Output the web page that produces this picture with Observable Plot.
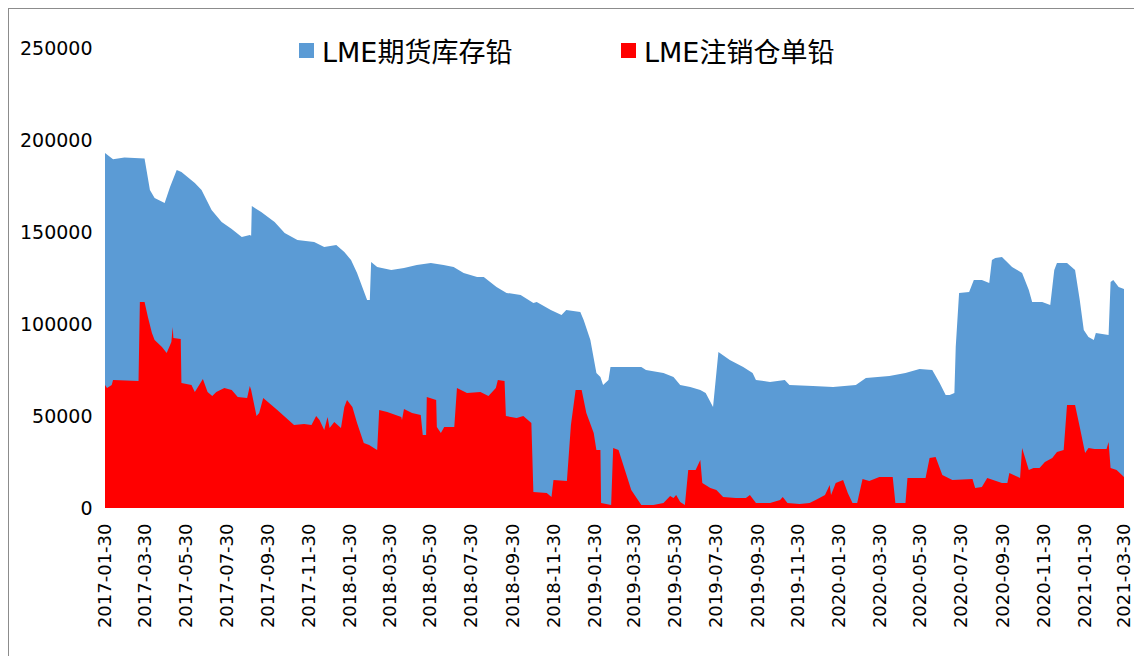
<!DOCTYPE html>
<html><head><meta charset="utf-8">
<script src="https://cdn.jsdelivr.net/npm/d3@7"></script>
<script src="https://cdn.jsdelivr.net/npm/@observablehq/plot@0.6"></script>
<style>
body{margin:0;background:#fff;}
#wrap{position:relative;width:1134px;height:656px;overflow:hidden;font-family:"DejaVu Sans","Noto Sans CJK SC",sans-serif;}
#frame{position:absolute;left:8px;top:8px;width:1140px;height:700px;border:1px solid #8c8c8c;box-sizing:border-box;}
#chart{position:absolute;left:0;top:0;}
.lg{position:absolute;top:31px;display:flex;align-items:center;font-size:27px;color:#000;white-space:nowrap;}
.sw{width:15px;height:15px;margin-right:8px;}
</style></head>
<body><div id="wrap"><div id="frame"></div><div id="chart"></div>
<div class="lg" style="left:299px"><div class="sw" style="background:#5B9BD5"></div><span>LME期货库存铅</span></div>
<div class="lg" style="left:621px"><div class="sw" style="background:#FF0000"></div><span>LME注销仓单铅</span></div>
</div>
<script>
const seriesNames = ["LME期货库存铅", "LME注销仓单铅"];
const xTickLabels = ["2017-01-30","2017-03-30","2017-05-30","2017-07-30","2017-09-30","2017-11-30",
"2018-01-30","2018-03-30","2018-05-30","2018-07-30","2018-09-30","2018-11-30",
"2019-01-30","2019-03-30","2019-05-30","2019-07-30","2019-09-30","2019-11-30",
"2020-01-30","2020-03-30","2020-05-30","2020-07-30","2020-09-30","2020-11-30",
"2021-01-30","2021-03-30"];
const yTicks = [0, 50000, 100000, 150000, 200000, 250000];

// LME期货库存铅 (total stocks)
const stockDates = ["2017-01-30","2017-02-11","2017-02-28","2017-03-30","2017-04-07","2017-04-14","2017-04-29","2017-05-07","2017-05-17","2017-05-24",
"2017-06-13","2017-06-23","2017-07-08","2017-07-23","2017-08-07","2017-08-22","2017-09-03","2017-09-05","2017-09-06","2017-09-20",
"2017-10-10","2017-10-25","2017-11-13","2017-12-08","2017-12-23","2018-01-10","2018-01-22","2018-02-01","2018-02-10","2018-02-25",
"2018-03-01","2018-03-03","2018-03-12","2018-04-02","2018-04-21","2018-05-10","2018-05-31","2018-06-19","2018-07-04","2018-07-19",
"2018-08-08","2018-08-18","2018-09-06","2018-09-21","2018-10-12","2018-10-31","2018-11-05","2018-11-26","2018-12-12","2018-12-19",
"2019-01-09","2019-01-14","2019-01-24","2019-02-02","2019-02-08","2019-02-12","2019-02-20","2019-02-23","2019-04-10","2019-04-17",
"2019-05-13","2019-05-28","2019-06-07","2019-06-22","2019-07-07","2019-07-15","2019-07-26","2019-08-03","2019-08-20","2019-09-09",
"2019-09-23","2019-09-28","2019-10-19","2019-11-10","2019-11-17","2019-12-22","2020-01-21","2020-02-24","2020-03-10","2020-04-14",
"2020-05-08","2020-05-29","2020-06-17","2020-06-28","2020-07-07","2020-07-13","2020-07-20","2020-07-22","2020-07-27","2020-08-11",
"2020-08-18","2020-08-30","2020-09-10","2020-09-14","2020-09-19","2020-09-29","2020-10-14","2020-10-29","2020-11-08","2020-11-13",
"2020-11-28","2020-12-10","2020-12-16","2020-12-20","2021-01-04","2021-01-16","2021-01-23","2021-01-29","2021-02-05","2021-02-13",
"2021-02-16","2021-03-07","2021-03-10","2021-03-14","2021-03-22","2021-03-30"];
const stockValues = [193000,189500,190500,190000,172800,168500,165800,174500,183700,182600,
176600,172800,162000,155400,151600,147300,148400,148000,164100,160900,
155400,149500,145700,144600,141900,142900,139100,134800,127700,113000,
113000,133700,131000,129400,130400,132100,133200,132100,131000,127700,
125500,125500,120100,116900,115800,111400,112000,107600,104900,107600,
106500,102200,91300,73400,71200,66900,69600,76600,76600,75000,
73400,71200,66900,65800,64100,62500,54900,84800,80400,76600,
73400,69600,68500,69600,66900,66300,65800,66900,70700,71700,
73400,75500,75000,67900,61400,61400,62500,87500,116900,117400,
123900,123900,122300,134800,135900,136400,131000,127700,118500,112000,
112000,110300,129400,133200,133200,129400,113000,96700,92900,91300,
95100,94000,122800,123900,120100,119000];

// LME注销仓单铅 (cancelled warrants)
const cancelDates = ["2017-01-30","2017-02-02","2017-02-09","2017-02-11","2017-03-21","2017-03-23","2017-03-30","2017-04-04","2017-04-10","2017-04-14",
"2017-04-25","2017-05-02","2017-05-09","2017-05-11","2017-05-12","2017-05-23","2017-05-24","2017-06-08","2017-06-13","2017-06-25",
"2017-07-02","2017-07-09","2017-07-15","2017-07-27","2017-08-07","2017-08-16","2017-08-30","2017-09-03","2017-09-05","2017-09-13",
"2017-09-17","2017-09-23","2017-10-14","2017-11-08","2017-11-23","2017-12-04","2017-12-11","2017-12-16","2017-12-23","2017-12-28",
"2017-12-31","2018-01-07","2018-01-17","2018-01-22","2018-01-26","2018-02-03","2018-02-10","2018-02-20","2018-02-28","2018-03-07",
"2018-03-12","2018-03-15","2018-03-27","2018-04-17","2018-04-18","2018-04-21","2018-05-03","2018-05-16","2018-05-19","2018-05-24",
"2018-05-25","2018-06-08","2018-06-09","2018-06-15","2018-06-20","2018-07-05","2018-07-09","2018-07-24","2018-08-13","2018-08-25",
"2018-09-05","2018-09-08","2018-09-18","2018-09-20","2018-10-06","2018-10-16","2018-10-28","2018-10-31","2018-11-20","2018-11-27",
"2018-11-30","2018-12-20","2018-12-26","2019-01-02","2019-01-11","2019-01-18","2019-01-29","2019-02-02","2019-02-08","2019-02-09",
"2019-02-24","2019-02-27","2019-03-07","2019-03-26","2019-04-10","2019-04-28","2019-05-13","2019-05-23","2019-05-28","2019-06-01",
"2019-06-07","2019-06-14","2019-06-19","2019-06-30","2019-07-07","2019-07-10","2019-07-22","2019-07-31","2019-08-10","2019-08-29",
"2019-09-13","2019-09-19","2019-09-28","2019-10-19","2019-11-03","2019-11-07","2019-11-14","2019-12-02","2019-12-17","2019-12-26",
"2020-01-09","2020-01-16","2020-01-18","2020-01-25","2020-02-05","2020-02-12","2020-02-19","2020-02-26","2020-03-05","2020-03-15",
"2020-03-30","2020-04-19","2020-04-23","2020-05-08","2020-05-11","2020-06-07","2020-06-13","2020-06-22","2020-07-02","2020-07-17",
"2020-08-16","2020-08-20","2020-08-30","2020-09-07","2020-09-29","2020-10-07","2020-10-10","2020-10-26","2020-10-29","2020-11-08",
"2020-11-15","2020-11-24","2020-12-02","2020-12-13","2020-12-20","2020-12-30","2021-01-04","2021-01-16","2021-01-23","2021-01-31",
"2021-02-05","2021-02-14","2021-03-04","2021-03-07","2021-03-10","2021-03-19","2021-03-30"];
const cancelValues = [66900,65200,66900,69600,69000,112000,112000,103800,95100,91300,
87500,84200,90200,98400,92400,91800,67900,66900,63000,70100,
63000,60900,63000,65200,64100,60300,59800,66300,64100,50000,
51600,59800,53300,45100,45700,45100,50000,47800,42400,49500,
43500,46700,43500,54900,58700,54900,46200,35300,34200,32600,
31500,53300,52200,49500,47800,53800,51600,50500,39700,39700,
60300,58700,44000,40800,44000,44000,65200,62500,63000,60900,
65200,69600,69000,50000,48900,50000,46200,8700,8200,6000,
15200,14700,45100,64100,64100,51600,40800,31500,31500,2700,
1600,32600,31500,9800,1600,1600,2700,6500,5400,7100,
3300,1600,20700,20700,26100,13600,10900,9800,6000,5400,
5400,7100,2700,2700,4300,6000,2700,2200,2700,4300,
7100,12500,7100,13600,15200,8200,2700,2700,15800,14700,
16800,16800,2700,2700,16300,16300,27200,27700,17900,15200,
15800,10900,11400,16300,13600,13600,19000,16300,32600,20700,
21700,21700,25000,27200,30400,31500,56000,56000,44000,29900,
32600,32100,32100,35900,21700,20700,16800];

const stock = stockDates.map((d, i) => ({date: new Date(d), value: stockValues[i]}));
const cancel = cancelDates.map((d, i) => ({date: new Date(d), value: cancelValues[i]}));

const plot = Plot.plot({
  width: 1134, height: 656,
  marginLeft: 105, marginRight: 10, marginTop: 48, marginBottom: 148,
  style: {background: "transparent", color: "#000", fontFamily: "DejaVu Sans, sans-serif", overflow: "visible"},
  x: {type: "utc", domain: [new Date("2017-01-30"), new Date("2021-03-30")], axis: null},
  y: {domain: [0, 250000], axis: null},
  marks: [
    Plot.areaY(stock, {x: "date", y: "value", fill: "#5B9BD5"}),
    Plot.areaY(cancel, {x: "date", y: "value", fill: "#FF0000"}),
    Plot.axisY({ticks: yTicks, tickSize: 0, tickPadding: 13, fontSize: 19, label: null, tickFormat: d => String(d)}),
    Plot.axisX({ticks: xTickLabels.map(d => new Date(d)), tickFormat: d3.utcFormat("%Y-%m-%d"), tickRotate: -90, tickSize: 0, tickPadding: 15, fontSize: 18, label: null})
  ]
});
document.getElementById("chart").appendChild(plot);
</script>
</body></html>
